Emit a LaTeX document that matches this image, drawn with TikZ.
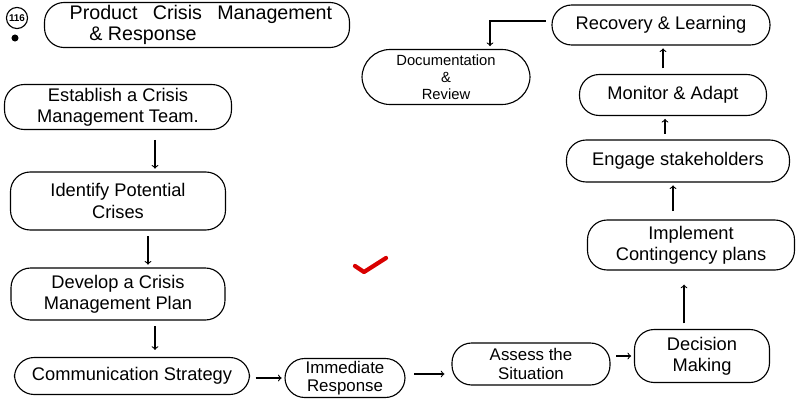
\documentclass[tikz,border=0pt]{standalone}
\usepackage{fontspec}
\setmainfont{Liberation Sans}
\usetikzlibrary{shapes,arrows}
\tikzstyle{block} = [rectangle, draw, thick, align=center, rounded corners=14pt, inner sep=2pt, font=\fontsize{13}{15}\selectfont]
\tikzstyle{line} = [draw, thick, ->, shorten >=2pt, shorten <=4pt]
\tikzstyle{checkmark} = [draw, red!85!black, line width=3pt, line cap=round, line join=round]

\begin{document}
\begin{tikzpicture}[node distance = 2.35cm, auto]
    \useasboundingbox (0,0) rectangle (20.175,-10.075);
    % Place nodes
    \node [circle, draw, thick, inner sep=1pt, font=\scriptsize\bfseries] (num) at (0.425,-0.45) {116};
    \fill (0.375,-0.95) circle (2.5pt);
    \node [block, minimum width=7.625cm, minimum height=1.125cm, align=left, font=\fontsize{14}{15}\selectfont] (title) at (4.925,-0.625) {\hspace{0.4em}Product \enspace Crisis \enspace Management\\ \hspace{1.4em}\& Response};
    \node [block, minimum width=5.675cm, minimum height=1.125cm] (team) at (2.95,-2.675) {Establish a Crisis\\Management Team.};
    \node [block, node distance=2.35cm, below of=team, minimum width=5.375cm, minimum height=1.45cm] (crises) {Identify Potential\\Crises};
    \node [block, node distance=2.325cm, below of=crises, minimum width=5.35cm, minimum height=1.3cm] (plan) {Develop a Crisis\\Management Plan};
    \node [block, node distance=2.05cm, below of=plan, xshift=0.35cm, minimum width=5.875cm, minimum height=0.925cm] (comms) {Communication Strategy};
    \node [block, node distance=5.325cm, right of=comms, yshift=-0.05cm, minimum width=3cm, minimum height=0.975cm, inner sep=1pt, font=\fontsize{12}{12.5}\selectfont] (response) {Immediate\\Response};
    \node [block, node distance=4.65cm, right of=response, yshift=0.35cm, minimum width=3.95cm, minimum height=1.05cm, font=\fontsize{12}{13}\selectfont] (assess) {Assess the\\Situation};
    \node [block, node distance=4.275cm, right of=assess, yshift=0.2cm, minimum width=3.375cm, minimum height=1.325cm] (decision) {Decision\\Making};
    \node [block, node distance=2.775cm, above of=decision, xshift=-0.275cm, minimum width=5.175cm, minimum height=1.25cm] (contingency) {Implement\\Contingency plans};
    \node [block, node distance=2.1cm, above of=contingency, xshift=-0.325cm, minimum width=5.575cm, minimum height=1.05cm] (stakeholders) {Engage stakeholders};
    \node [block, node distance=1.65cm, above of=stakeholders, xshift=-0.125cm, minimum width=4.675cm, minimum height=1.025cm] (monitor) {Monitor \& Adapt};
    \node [block, node distance=1.75cm, above of=monitor, xshift=-0.3cm, minimum width=5.45cm, minimum height=1cm] (recovery) {Recovery \& Learning};
    \node [block, node distance=5.375cm, left of=recovery, yshift=-1.3cm, minimum width=4.2cm, minimum height=1.375cm, rounded corners=20pt, font=\fontsize{10.5}{12}\selectfont] (review) {Documentation\\\&\\Review};
    % Draw edges
    \path [line, shorten <=7pt] ([xshift=0.925cm]team.south) -- ([xshift=0.925cm]team.south |- crises.north);
    \path [line] ([xshift=0.75cm]crises.south) -- ([xshift=0.75cm]crises.south |- plan.north);
    \path [line, shorten >=5pt] ([xshift=0.925cm]plan.south) -- ([xshift=0.925cm]plan.south |- comms.north);
    \path [line] (comms.east |- response.west) -- (response.west);
    \path [line, shorten <=6pt, shorten >=5pt] ([yshift=0.1cm]response.east) -- ([yshift=0.1cm]response.east -| assess.west);
    \path [line] (assess.east |- decision.west) -- (decision.west);
    \path [line, shorten >=10pt] ([xshift=-0.45cm]decision.north) -- ([xshift=-0.45cm]decision.north |- contingency.south);
    \path [line, shorten <=6pt] ([xshift=-0.45cm]contingency.north) -- ([xshift=-0.45cm]contingency.north |- stakeholders.south);
    \path [line] ([xshift=-0.325cm]stakeholders.north) -- ([xshift=-0.325cm]stakeholders.north |- monitor.south);
    \path [line] ([xshift=-0.25cm]monitor.north) -- ([xshift=-0.25cm]monitor.north |- recovery.south);
    \path [line] ([yshift=0.1cm]recovery.west) -| ([xshift=1.1cm]review.north);
    % Tick
    \draw [checkmark] (8.875,-6.65) -- (9.1,-6.8) -- (9.65,-6.45);
\end{tikzpicture}
\end{document}
